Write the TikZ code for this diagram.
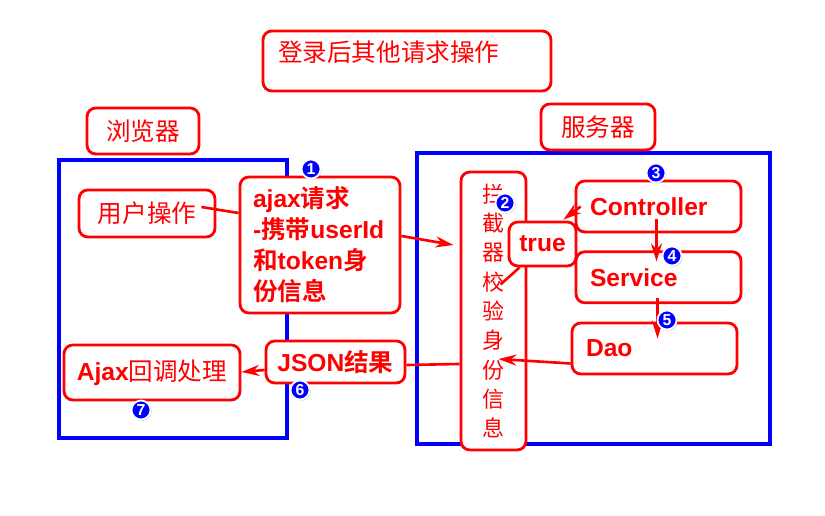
\documentclass[tikz,border=0pt]{standalone}
\usepackage{fontspec}
\setsansfont{Liberation Sans}
\newfontfamily\cjk{Noto Sans CJK SC}[BoldFont={Noto Sans CJK SC Bold}]
\usepackage{tikz}
\usetikzlibrary{arrows.meta, positioning, calc, shadows}
\definecolor{colRed}  {HTML}{FF0000}
\definecolor{colBlue} {HTML}{0000FF}
\tikzset{
  box/.style={
    draw=colRed, fill=white, rounded corners=5pt,
    line width=1.6pt, inner sep=0pt, align=center,
    text=colRed
  },
  zhbox/.style  ={box, font=\cjk\fontsize{14}{17}\selectfont},
  enbox/.style  ={box, font=\sffamily\bfseries\fontsize{14}{17.6}\selectfont},
  layerbox/.style={enbox, minimum width=3.3cm, minimum height=1.02cm,
    text width=2.74cm, align=left, inner xsep=0.28cm},
  frame/.style={
    draw=colBlue, line width=2pt, inner sep=0pt
  },
  badge/.style={
    circle, fill=colBlue, draw=white, line width=1pt,
    minimum size=0.38cm, inner sep=0pt, text=white,
    font=\sffamily\bfseries\fontsize{9}{9}\selectfont,
    drop shadow={opacity=0.35, shadow xshift=0.7pt, shadow yshift=-0.7pt}
  },
  conn/.style={line width=1.5pt, draw=colRed},
  arr/.style ={
    -{Stealth[length=3.6mm,width=2.2mm]},
    line width=1.5pt, draw=colRed
  }
}
\newcommand{\zh}[1]{{\cjk #1}}

\begin{document}
\begin{tikzpicture}[x=0.02cm, y=-0.02cm]
  \useasboundingbox (0,0) rectangle (825,516);

  %% ── Frames: browser / server ─────────────────────────────────────
  \node[frame, minimum width=4.56cm, minimum height=5.56cm] (browser) at (173,299) {};
  \node[frame, minimum width=7.06cm, minimum height=5.82cm] (server)  at (593.5,298.5) {};

  %% ── Title and side labels ────────────────────────────────────────
  \node[zhbox, minimum width=5.76cm, text width=5.16cm, align=left,
        inner xsep=0.3cm, text height=0.61cm, text depth=0.59cm] (title) at (407,61)
        {登录后其他请求操作};
  \node[zhbox, minimum width=2.24cm, minimum height=0.92cm] (lblBrowser) at (143,131) {浏览器};
  \node[zhbox, minimum width=2.28cm, minimum height=0.92cm] (lblServer)  at (598,127) {服务器};

  %% ── Browser side ─────────────────────────────────────────────────
  \node[zhbox, minimum width=2.72cm, minimum height=0.94cm] (user) at (147,213.5) {用户操作};
  \node[enbox, minimum width=3.2cm, minimum height=2.72cm, text width=2.68cm,
        align=left, inner xsep=0.26cm] (ajax) at (320,245)
        {ajax\zh{请求}\\-\zh{携带}userId\\\zh{和}token\zh{身}\\\zh{份信息}};
  \node[enbox, minimum width=3.52cm, minimum height=1.1cm] (ajaxcb) at (152,372.5)
        {Ajax\zh{\mdseries 回调处理}};
  \node[enbox, minimum width=2.78cm, minimum height=0.84cm] (json) at (335.5,362)
        {JSON\zh{结果}};

  %% ── Server side ──────────────────────────────────────────────────
  \node[box, font=\cjk\fontsize{12.5}{16.7}\selectfont,
        minimum width=1.3cm, minimum height=5.56cm] (icpt) at (493.5,311)
        {拦\\截\\器\\校\\验\\身\\份\\信\\息};
  \node[enbox, minimum width=1.34cm, minimum height=0.88cm] (true) at (542.5,244) {true};
  \node[layerbox] (ctrl) at (658.5,206.5) {Controller};
  \node[layerbox, below=0.34cm of ctrl] (svc) {Service};
  \node[layerbox] (dao) at (654.5,348.5) {Dao};

  %% ── Connectors ───────────────────────────────────────────────────
  \draw[conn] ([xshift=-3mm,yshift=1.3mm]user.east) -- ([yshift=6.4mm]ajax.west);
  \draw[arr]  ([yshift=1.8mm]ajax.east) -- ([xshift=-1.2mm]icpt.west |- ajax.east);
  \draw[conn] ([xshift=-1.4mm,yshift=-3.4mm]true.south west)
              -- ([xshift=2.4mm]true.south west);
  \draw[arr]  ([xshift=1.2mm]ctrl.west) -- ([xshift=-2.8mm,yshift=0.2mm]true.north east);
  \draw[arr]  ([xshift=-0.4mm,yshift=2.8mm]ctrl.south) -- ([xshift=-0.4mm,yshift=-2.2mm]svc.north);
  \draw[arr]  ([xshift=-0.2mm,yshift=1.2mm]svc.south)
              -- ($(svc.south |- dao.north)+(-0.2mm,-3.4mm)$);
  \draw[arr]  ([yshift=-3mm]dao.west) -- ($(icpt.east |- dao.west)+(-5.8mm,-2.1mm)$);
  \draw[conn] ([yshift=-1.06cm]icpt.west) -- ([yshift=-0.06cm]json.east);
  \draw[arr]  ([yshift=-1.6mm]json.west) -- ([yshift=0.1mm]ajaxcb.east);

  %% ── Step badges ──────────────────────────────────────────────────
  \node[badge] (b1) at (311,169) {1};
  \node[badge] (b2) at (505,203) {2};
  \node[badge] (b3) at (656,173) {3};
  \node[badge] (b4) at (672,256) {4};
  \node[badge] (b5) at (667,320) {5};
  \node[badge] (b6) at (300,390) {6};
  \node[badge] (b7) at (141,410) {7};
\end{tikzpicture}
\end{document}
